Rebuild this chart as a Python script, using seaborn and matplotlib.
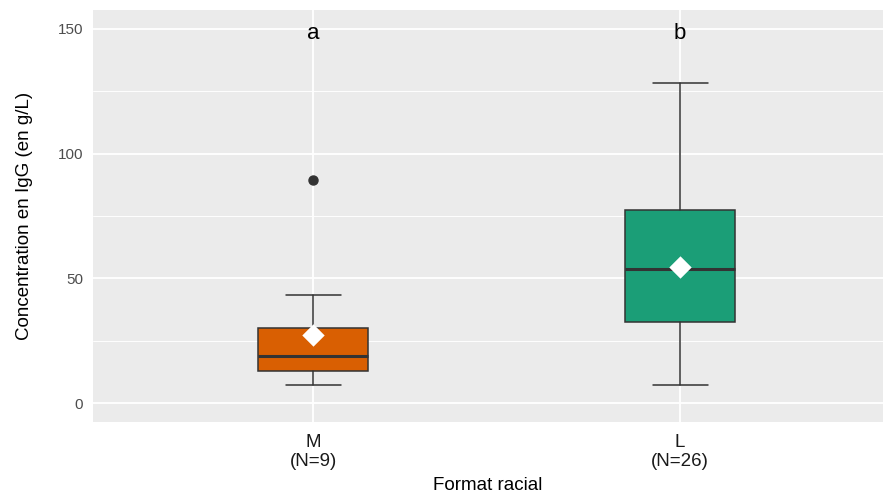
import matplotlib
matplotlib.use("Agg")
import matplotlib.pyplot as plt
import matplotlib.transforms as mtransforms
import seaborn as sns
import pandas as pd
import numpy as np

# ---- data ----
categories = ["M", "L"]
counts = [9, 26]
whisker_low = [7.2, 7.2]
q1 = [13.1, 32.4]
median = [18.9, 53.6]
q3 = [30.3, 77.6]
whisker_high = [43.5, 128.4]
outliers = [[89.6], []]
means = [27.3, 54.7]
letters = ["a", "b"]
letter_y = [150, 150]
colors = ["#D95F02", "#1B9E77"]

sns.set_theme(style="darkgrid", rc={
    "axes.facecolor": "#EBEBEB",
    "figure.facecolor": "white",
    "grid.color": "white",
})
plt.rcParams["font.family"] = ["Liberation Sans", "DejaVu Sans"]

W, H = 883, 493
fig = plt.figure(figsize=(W / 100, H / 100), dpi=100)
ax = fig.add_axes([93 / W, (H - 422) / H, (W - 93) / W, (422 - 10) / H])

stats = []
for i, c in enumerate(categories):
    stats.append(dict(label=c, whislo=whisker_low[i], q1=q1[i], med=median[i],
                      q3=q3[i], whishi=whisker_high[i], fliers=outliers[i],
                      mean=means[i]))
positions = list(range(len(categories)))
edge = "#333333"
bp = ax.bxp(stats, positions=positions, widths=0.3, patch_artist=True,
            showmeans=False, showfliers=True, manage_ticks=False,
            boxprops=dict(edgecolor=edge, linewidth=1.1),
            whiskerprops=dict(color=edge, linewidth=1.1),
            capprops=dict(color=edge, linewidth=1.1),
            capwidths=0.15,
            medianprops=dict(color=edge, linewidth=2.2, solid_capstyle="butt"),
            flierprops=dict(marker="o", markerfacecolor=edge, markeredgecolor=edge,
                            markersize=6.5))
for patch, col in zip(bp["boxes"], colors):
    patch.set_facecolor(col)
    patch.set_zorder(3)
for key in ["whiskers", "caps", "medians", "fliers"]:
    for art in bp[key]:
        art.set_zorder(3)

df_means = pd.DataFrame({"pos": positions, "mean": means})
sns.scatterplot(data=df_means, x="pos", y="mean", marker="D", s=130,
                color="white", edgecolor="white", linewidth=0, ax=ax, zorder=4)

offset = mtransforms.ScaledTranslation(0, -5 / 100, fig.dpi_scale_trans)
for i, t in enumerate(letters):
    ax.text(positions[i], letter_y[i], t, ha="center", va="center",
            fontsize=16, color="black", zorder=5,
            transform=ax.transData + offset)

ax.set_xlim(-0.6, (W - 313) / 367)
ax.set_ylim(-7.5, 157.5)
ax.set_yticks([0, 50, 100, 150])
ax.set_yticks([25, 75, 125], minor=True)
ax.set_xticks(positions)
ax.set_xticklabels([f"{c}\n(N={n})" for c, n in zip(categories, counts)],
                   linespacing=1.2)
ax.grid(which="major", color="white", linewidth=1.3)
ax.grid(which="minor", axis="y", color="white", linewidth=0.65)
ax.tick_params(axis="both", which="major", length=4, width=1.0, color="#333333")
ax.tick_params(axis="y", which="minor", length=0)
ax.tick_params(axis="y", labelsize=11, labelcolor="#4D4D4D", pad=3)
ax.tick_params(axis="x", labelsize=13.5, labelcolor="#1A1A1A", pad=4.5)
for s in ax.spines.values():
    s.set_visible(False)
ax.set_axisbelow(True)
ax.set_xlabel("Format racial", fontsize=13.5, color="black", labelpad=5)
ax.set_ylabel("Concentration en IgG (en g/L)", fontsize=13.5, color="black", labelpad=18)

fig.savefig("out.png", dpi=100)
